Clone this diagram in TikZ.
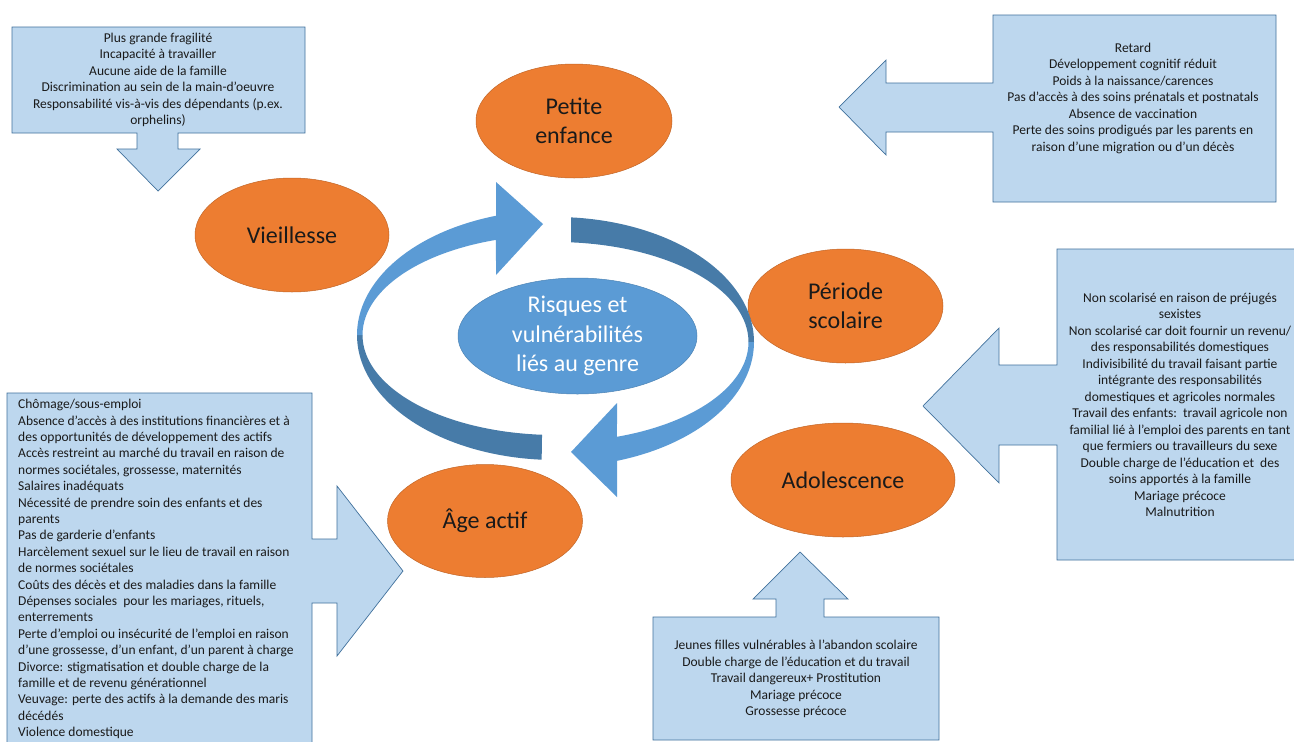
\documentclass[tikz,border=0pt]{standalone}
\usepackage{fontspec}
\setmainfont{Carlito}
\usetikzlibrary{shapes.geometric}
\definecolor{orangeE}{HTML}{ED7D31}
\definecolor{boxfill}{HTML}{BDD7EE}
\definecolor{boxline}{HTML}{41719C}
\definecolor{ringlight}{HTML}{5B9BD5}
\definecolor{ringdark}{HTML}{477BA8}
\definecolor{txt}{HTML}{1A1A1A}
\begin{document}
\begin{tikzpicture}[x=1pt,y=-1pt,
  stage/.style={ellipse, fill=orangeE, draw=orangeE!82!black, line width=0.5pt,
    inner sep=0pt, align=center, text=txt, font=\fontsize{24}{29}\selectfont},
  callout/.style={fill=boxfill, draw=boxline, line width=0.7pt, line join=miter},
  boxtext/.style={align=center, inner sep=0pt, text=txt, font=\fontsize{13.5}{16.5}\selectfont},
  boxtextl/.style={align=left, inner sep=0pt, text=txt, font=\fontsize{13.5}{16.4}\selectfont}]
\useasboundingbox (0,0) rectangle (1294,742);
\clip (0,0) rectangle (1294,742);
\fill[white] (0,0) rectangle (1294,742);

% ---- callouts ----
\draw[callout] (12,27) -- (305,27) -- (305,133) -- (178,133) -- (178,149) -- (200,149)
  -- (158,191) -- (117,149) -- (137,149) -- (137,133) -- (12,133) -- cycle;
\node[boxtext] (tlt) at (158,80) {Plus grande fragilité\\Incapacité à travailler\\Aucune aide de la famille\\Discrimination au sein de la main-d’oeuvre\\Responsabilité vis-à-vis des dépendants (p.ex.\\orphelins)};

\draw[callout] (993,15) -- (1276,15) -- (1276,202) -- (993,202) -- (993,132) -- (886,132)
  -- (886,155) -- (839,107) -- (886,60) -- (886,83) -- (993,83) -- cycle;
\node[boxtext] (trt) at (1133,98) {Retard\\Développement cognitif réduit\\Poids à la naissance/carences\\Pas d’accès à des soins prénatals et postnatals\\Absence de vaccination\\Perte des soins prodigués par les parents en\\raison d’une migration ou d’un décès};

\draw[callout] (1057,249) -- (1310,249) -- (1310,560) -- (1057,560) -- (1057,445) -- (999,445)
  -- (999,483) -- (923,406) -- (999,328) -- (999,365) -- (1057,365) -- cycle;
\node[boxtext] (rt) at (1180,405) {Non scolarisé en raison de préjugés\\sexistes\\Non scolarisé car doit fournir un revenu/\\des responsabilités domestiques\\Indivisibilité du travail faisant partie\\intégrante des responsabilités\\domestiques et agricoles normales\\Travail des enfants:\ \ travail agricole non\\familial lié à l’emploi des parents en tant\\que fermiers ou travailleurs du sexe\\Double charge de l’éducation et\ \ des\\soins apportés à la famille\\Mariage précoce\\Malnutrition};

\draw[callout] (7,393) -- (312,393) -- (312,539) -- (337,539) -- (337,486) -- (403,571)
  -- (337,656) -- (337,603) -- (312,603) -- (312,760) -- (7,760) -- cycle;
\node[boxtextl, anchor=west] (blt) at (18,569) {Chômage/sous-emploi\\Absence d’accès à des institutions financières et à\\des opportunités de développement des actifs\\Accès restreint au marché du travail en raison de\\normes sociétales, grossesse, maternités\\Salaires inadéquats\\Nécessité de prendre soin des enfants et des\\parents\\Pas de garderie d’enfants\\Harcèlement sexuel sur le lieu de travail en raison\\de normes sociétales\\Coûts des décès et des maladies dans la famille\\Dépenses sociales\ \ pour les mariages, rituels,\\enterrements\\Perte d’emploi ou insécurité de l’emploi en raison\\d’une grossesse, d’un enfant, d’un parent à charge\\Divorce: stigmatisation et double charge de la\\famille et de revenu générationnel\\Veuvage: perte des actifs à la demande des maris\\décédés\\Violence domestique};

\draw[callout] (653,617) -- (776,617) -- (776,599) -- (753,599) -- (800,552) -- (848,599)
  -- (824,599) -- (824,617) -- (939,617) -- (939,740) -- (653,740) -- cycle;
\node[boxtext] (bt) at (796,679) {Jeunes filles vulnérables à l’abandon scolaire\\Double charge de l’éducation et du travail\\Travail dangereux+ Prostitution\\Mariage précoce\\Grossesse précoce};

% ---- life stages ----
\node[stage, minimum width=196pt, minimum height=114pt] (petite) at (574,121) {Petite\\enfance};
\node[stage, minimum width=194pt, minimum height=114pt] (vieil) at (292,235) {Vieillesse};
\node[stage, minimum width=195pt, minimum height=114pt] (periode) at (845.5,306) {Période\\scolaire};
\node[stage, minimum width=224pt, minimum height=114pt] (ado) at (843,480) {Adolescence};
\node[stage, minimum width=195pt, minimum height=113pt] (age) at (485,521) {Âge actif};

% ---- circular arrows ----
\fill[ringdark] plot[domain=94:180,samples=50,variable=\t] ({555.5+198.5*cos(\t)},{335+125*sin(\t)})
  -- plot[domain=180:94,samples=50,variable=\t] ({555.5+193*cos(\t)},{335+100*sin(\t)}) -- cycle;
\fill[ringlight] plot[domain=180:252.56,samples=50,variable=\t] ({555.5+198.5*cos(\t)},{335+125*sin(\t)})
  -- (496,182) -- (543,224) -- (496,275)
  -- plot[domain=252.04:180,samples=50,variable=\t] ({555.5+193*cos(\t)},{335+100*sin(\t)}) -- cycle;
\fill[ringdark] plot[domain=274.48:360,samples=50,variable=\t] ({555.5+198.5*cos(\t)},{342+125*sin(\t)})
  -- plot[domain=360:274.61,samples=50,variable=\t] ({555.5+193*cos(\t)},{342+100*sin(\t)}) -- cycle;
\fill[ringlight] plot[domain=0:71.95,samples=50,variable=\t] ({555.5+198.5*cos(\t)},{342+125*sin(\t)})
  -- (617,497) -- (571,452) -- (617,403)
  -- plot[domain=71.42:0,samples=50,variable=\t] ({555.5+193*cos(\t)},{342+100*sin(\t)}) -- cycle;

% ---- centre ----
\node[ellipse, fill=ringlight, draw=ringlight!85!black, line width=0.5pt, inner sep=0pt,
  minimum width=239pt, minimum height=116pt, align=center, text=white,
  font=\fontsize{24}{29.5}\selectfont] (centre) at (577.5,336) {Risques et\\vulnérabilités\\liés au genre};
\end{tikzpicture}
\end{document}
